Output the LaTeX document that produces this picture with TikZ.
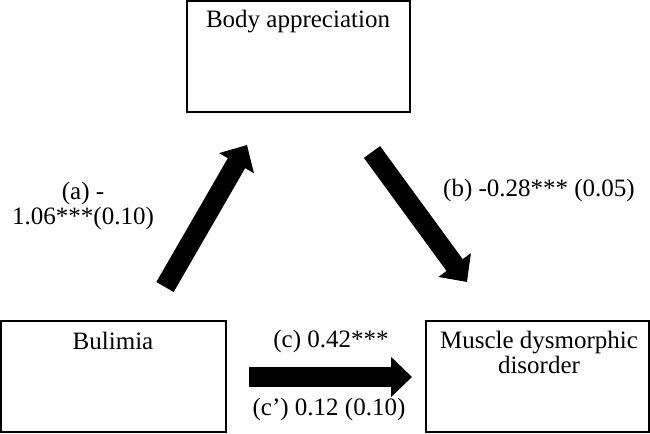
\documentclass[tikz,border=0pt]{standalone}
\usepackage{fontspec}
\setmainfont{Liberation Serif}
\usetikzlibrary{arrows.meta}
\tikzset{
  varbox/.style={draw=black, line width=1.6bp},
  lbl/.style={inner sep=0pt, anchor=base, align=center, font=\fontsize{25bp}{25.5bp}\selectfont},
  bigarrow/.style={line width=20bp, line cap=butt, -{Triangle[width=39bp,length=21bp]}}
}
\begin{document}
\begin{tikzpicture}[x=1bp,y=-1bp]
\useasboundingbox (0,0) rectangle (650,434);
% boxes
\draw[varbox] (187,1) rectangle (410,112);
\draw[varbox] (1,321) rectangle (226,432);
\draw[varbox] (426,321) rectangle (649,432);
% box texts
\node[lbl] (ba) at (298,28) {Body appreciation};
\node[lbl] (bul) at (113,349) {Bulimia};
\node[lbl] (mdd) at (539,373.5) {Muscle dysmorphic\\disorder};
% path labels
\node[lbl] (la) at (83,225) {(a) -\\1.06***(0.10)};
\node[lbl] (lb) at (539,197) {(b) -0.28*** (0.05)};
\node[lbl] (lc) at (331,347) {(c) 0.42***};
\node[lbl] (lcp) at (329,415) {(c’) 0.12 (0.10)};
% arrow ends
\coordinate (a0) at (165,287);
\coordinate (a1) at (247,145);
\coordinate (b0) at (372,152);
\coordinate (b1) at (467,282);
\coordinate (c0) at (249,377);
\coordinate (c1) at (412,377);
\draw[bigarrow] (a0) -- (a1);
\draw[bigarrow] (b0) -- (b1);
\draw[bigarrow] (c0) -- (c1);
\end{tikzpicture}
\end{document}
